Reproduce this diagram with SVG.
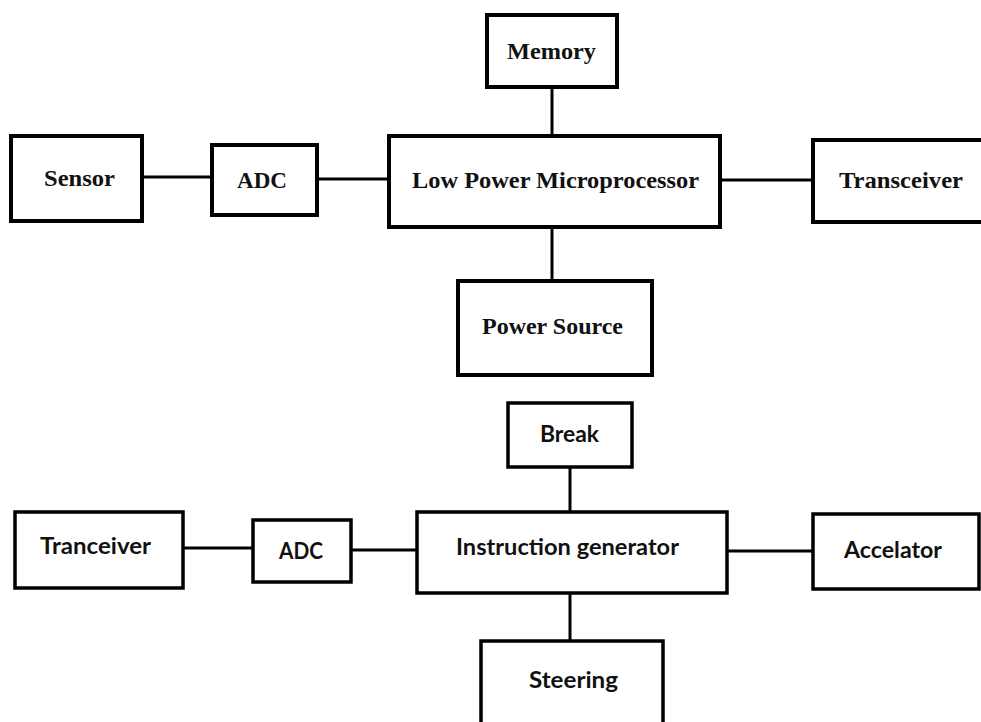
<svg xmlns="http://www.w3.org/2000/svg" width="981" height="722" viewBox="0 0 981 722">
  <style>
    .box { fill: #fff; stroke: #000; stroke-width: 3.5; }
    .box.heavy { stroke-width: 4; }
    .wire { fill: none; stroke: #000; stroke-width: 3; }
    .serif { font-family: "Liberation Serif", "Times New Roman", serif; font-weight: bold; font-size: 24px; fill: #111; }
    .sans { font-family: "Lato", "Open Sans", "Liberation Sans", sans-serif; font-weight: bold; font-size: 22px; fill: #111; }
  </style>
  <rect width="981" height="722" fill="#fff"/>

  <!-- connectors -->
  <g id="connectors">
    <line class="wire" x1="142" y1="177" x2="212" y2="177"/>
    <line class="wire" x1="317" y1="179" x2="389" y2="179"/>
    <line class="wire" x1="552" y1="87" x2="552" y2="136"/>
    <line class="wire" x1="552" y1="227" x2="552" y2="280"/>
    <line class="wire" x1="720" y1="180" x2="813" y2="180"/>

    <line class="wire" x1="183" y1="548" x2="253" y2="548"/>
    <line class="wire" x1="351" y1="550" x2="417" y2="550"/>
    <line class="wire" x1="570" y1="467" x2="570" y2="512"/>
    <line class="wire" x1="570" y1="593" x2="570" y2="641"/>
    <line class="wire" x1="727" y1="551" x2="813" y2="551"/>
  </g>

  <!-- upper block diagram -->
  <g id="sensor">
    <rect class="box heavy" x="11" y="136" width="131" height="85"/>
    <text class="serif" x="44" y="186" textLength="71" lengthAdjust="spacingAndGlyphs">Sensor</text>
  </g>
  <g id="adc-top">
    <rect class="box heavy" x="212" y="145" width="105" height="70"/>
    <text class="serif" x="237" y="188" textLength="50" lengthAdjust="spacingAndGlyphs">ADC</text>
  </g>
  <g id="microprocessor">
    <rect class="box heavy" x="389" y="136" width="331" height="91"/>
    <text class="serif" x="412" y="188" textLength="287" lengthAdjust="spacingAndGlyphs">Low Power Microprocessor</text>
  </g>
  <g id="memory">
    <rect class="box heavy" x="487" y="15" width="130" height="72"/>
    <text class="serif" x="507" y="59" textLength="89" lengthAdjust="spacingAndGlyphs">Memory</text>
  </g>
  <g id="power-source">
    <rect class="box heavy" x="458" y="281" width="194" height="94"/>
    <text class="serif" x="482" y="334" textLength="141" lengthAdjust="spacingAndGlyphs">Power Source</text>
  </g>
  <g id="transceiver">
    <rect class="box heavy" x="813" y="140" width="180" height="82"/>
    <text class="serif" x="839" y="188" textLength="124" lengthAdjust="spacingAndGlyphs">Transceiver</text>
  </g>

  <!-- lower block diagram -->
  <g id="tranceiver">
    <rect class="box" x="15" y="512" width="168" height="76"/>
    <text class="sans" x="40" y="554" textLength="111" lengthAdjust="spacingAndGlyphs">Tranceiver</text>
  </g>
  <g id="adc-bottom">
    <rect class="box" x="253" y="520" width="98" height="62"/>
    <text class="sans" x="279" y="559" textLength="44" lengthAdjust="spacingAndGlyphs">ADC</text>
  </g>
  <g id="instruction-generator">
    <rect class="box" x="417" y="512" width="310" height="81"/>
    <text class="sans" x="456" y="555" textLength="223" lengthAdjust="spacingAndGlyphs">Instruction generator</text>
  </g>
  <g id="break">
    <rect class="box" x="508" y="403" width="124" height="64"/>
    <text class="sans" x="540" y="442" textLength="59" lengthAdjust="spacingAndGlyphs">Break</text>
  </g>
  <g id="steering">
    <rect class="box" x="481" y="641" width="182" height="95"/>
    <text class="sans" x="529" y="688" textLength="89" lengthAdjust="spacingAndGlyphs">Steering</text>
  </g>
  <g id="accelator">
    <rect class="box" x="813" y="514" width="166" height="75"/>
    <text class="sans" x="844" y="558" textLength="98" lengthAdjust="spacingAndGlyphs">Accelator</text>
  </g>
</svg>
